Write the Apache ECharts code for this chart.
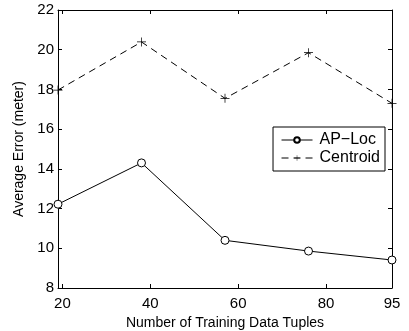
<!DOCTYPE html>
<html>
<head>
<meta charset="utf-8">
<script src="https://cdn.jsdelivr.net/npm/echarts@6/dist/echarts.min.js"></script>
<style>
  html, body { margin: 0; padding: 0; background: #fff; }
  #chart { width: 409px; height: 331px; }
</style>
</head>
<body>
<div id="chart"></div>
<script>
// 数据：训练样本数 vs 平均误差
var tuples = [19, 38, 57, 76, 95];
var apLoc = [12.22, 14.3, 10.4, 9.86, 9.41];
var centroid = [17.97, 20.39, 17.55, 19.85, 17.3];
var xTicks = [20, 40, 60, 80, 95];

var font = 'Liberation Sans, Arial, sans-serif';

function pairs(xs, ys) {
    return xs.map(function(x, i) { return [x, ys[i]]; });
}

var plusPath = 'path://M4.6,0H5.4V4.6H10V5.4H5.4V10H4.6V5.4H0V4.6H4.6Z';

var chart = echarts.init(document.getElementById('chart'));

var baseX = {
    type: 'value',
    min: 19,
    max: 95,
    axisLine: { show: true, lineStyle: { color: '#000', width: 1 } },
    axisTick: { show: true, inside: true, length: 4, customValues: xTicks, lineStyle: { color: '#000' } },
    splitLine: { show: false }
};

var baseY = {
    type: 'value',
    min: 8,
    max: 22,
    interval: 2,
    axisLine: { show: true, lineStyle: { color: '#000', width: 1 } },
    axisTick: { show: true, inside: true, length: 4, lineStyle: { color: '#000' } },
    splitLine: { show: false }
};

var option = {
    backgroundColor: '#fff',
    animation: false,
    grid: { left: 58, right: 17, top: 10, bottom: 43, outerBoundsMode: 'none' },
    xAxis: [
        Object.assign({}, baseX, {
            position: 'bottom',
            name: 'Number of Training Data Tuples',
            nameLocation: 'middle',
            nameGap: 25,
            nameTextStyle: { color: '#000', fontSize: 14, fontFamily: font },
            axisLabel: {
                color: '#000', fontSize: 15, fontFamily: font, margin: 8,
                customValues: xTicks
            }
        }),
        Object.assign({}, baseX, {
            position: 'top',
            axisLabel: { show: false }
        })
    ],
    yAxis: [
        Object.assign({}, baseY, {
            position: 'left',
            name: 'Average Error (meter)',
            nameLocation: 'middle',
            nameGap: 26,
            nameTextStyle: { color: '#000', fontSize: 14, fontFamily: font },
            axisLabel: { color: '#000', fontSize: 15, fontFamily: font, margin: 4 }
        }),
        Object.assign({}, baseY, {
            position: 'right',
            axisLabel: { show: false }
        })
    ],
    legend: {
        orient: 'vertical',
        right: 24,
        top: 127,
        padding: [5, 5, 5, 8],
        itemGap: 2,
        itemWidth: 31,
        itemHeight: 7,
        backgroundColor: '#fff',
        borderColor: '#000',
        borderWidth: 1,
        borderRadius: 0,
        lineStyle: { width: 1 },
        textStyle: { color: '#000', fontSize: 16, fontFamily: font, padding: [0, 0, 0, 2] },
        data: ['AP\u2212Loc', 'Centroid']
    },
    series: [
        {
            name: 'AP\u2212Loc',
            type: 'line',
            data: pairs(tuples, apLoc),
            symbol: 'circle',
            symbolSize: 8,
            lineStyle: { color: '#000', width: 1 },
            itemStyle: { color: '#fff', borderColor: '#000', borderWidth: 1 }
        },
        {
            name: 'Centroid',
            type: 'line',
            data: pairs(tuples, centroid),
            symbol: plusPath,
            symbolSize: 9,
            lineStyle: { color: '#000', width: 1, type: [7, 5] },
            itemStyle: { color: '#000' }
        }
    ]
};

chart.setOption(option);
</script>
</body>
</html>
